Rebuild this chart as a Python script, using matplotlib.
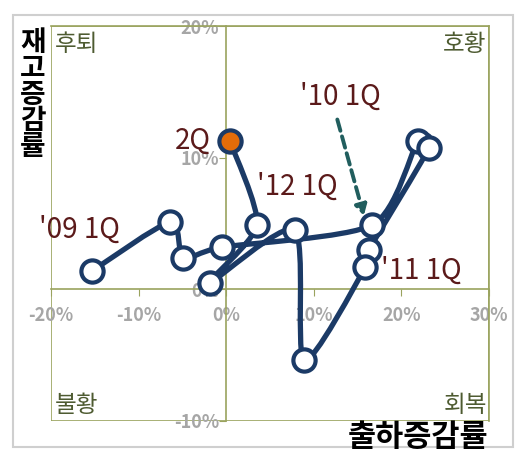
import matplotlib
matplotlib.use('Agg')
import matplotlib.pyplot as plt
from matplotlib.path import Path
from matplotlib.patches import PathPatch, Rectangle

plt.rcParams['font.family'] = ['Noto Sans CJK KR', 'DejaVu Sans']

# quarterly data, 2009 Q1 .. 2012 Q2
quarters = ["'09 1Q", "'09 2Q", "'09 3Q", "'09 4Q",
            "'10 1Q", "'10 2Q", "'10 3Q", "'10 4Q",
            "'11 1Q", "'11 2Q", "'11 3Q", "'11 4Q",
            "'12 1Q", "'12 2Q"]
shipments = [-15.3, -6.4, -4.9, -0.5, 16.7, 21.9, 23.1, 16.3,
             15.9, 8.9, 7.8, -1.9, 3.5, 0.4]
inventory = [1.4, 5.1, 2.4, 3.2, 4.9, 11.3, 10.7, 3.0,
             1.7, -5.4, 4.5, 0.5, 4.9, 11.3]

xticks = [-20, -10, 0, 10, 20, 30]
yticks = [-10, 0, 10, 20]

navy = '#1B3A66'
olive = '#9AA35E'
maroon = '#5B1A1A'
quad_color = '#4E5B31'

fig = plt.figure(figsize=(5.16, 4.5), dpi=100)
fig.patches.append(Rectangle((13 / 516, 3 / 450), 500 / 516, 432 / 450,
                             transform=fig.transFigure, fill=False,
                             ec='#cfcfcf', lw=1.5))
ax = fig.add_axes([51 / 516, 1 - 421 / 450, 438 / 516, 395 / 450])
ax.set_xlim(-20, 30)
ax.set_ylim(-10, 20)

# axes crossing at zero plus olive box
ax.spines['left'].set_position(('data', 0))
ax.spines['bottom'].set_position(('data', 0))
for s in ax.spines.values():
    s.set_color(olive)
    s.set_linewidth(1.2)
ax.add_patch(Rectangle((0, 0), 1, 1, transform=ax.transAxes, fill=False,
                       ec=olive, lw=1.2, zorder=1))
ax.set_xticks(xticks)
ax.set_xticklabels([f'{t}%' for t in xticks])
ax.set_yticks(yticks)
ax.set_yticklabels([f'{t}%' for t in yticks])
ax.tick_params(axis='both', direction='out', length=5, color=olive,
               labelcolor='#a6a6a6', labelsize=13)
ax.tick_params(axis='x', pad=7)
ax.tick_params(axis='y', pad=0)
for t in ax.get_xticklabels() + ax.get_yticklabels():
    t.set_fontweight('bold')

# smoothed line (Excel-like bezier between the data points)
pts = list(zip(shipments, inventory))
verts = [pts[0]]
codes = [Path.MOVETO]
n = len(pts)
k = 8
for i in range(n - 1):
    p0 = pts[i - 1] if i > 0 else pts[i]
    p1 = pts[i]
    p2 = pts[i + 1]
    p3 = pts[i + 2] if i + 2 < n else pts[i + 1]
    c1 = (p1[0] + (p2[0] - p0[0]) / k, p1[1] + (p2[1] - p0[1]) / k)
    c2 = (p2[0] - (p3[0] - p1[0]) / k, p2[1] - (p3[1] - p1[1]) / k)
    verts += [c1, c2, p2]
    codes += [Path.CURVE4] * 3
ax.add_patch(PathPatch(Path(verts, codes), fill=False, ec=navy, lw=3.8,
                       capstyle='round', joinstyle='round', zorder=3))

ax.plot(shipments[:-1], inventory[:-1], 'o', ms=16, mfc='white', mec=navy,
        mew=3, zorder=4)
ax.plot(shipments[-1:], inventory[-1:], 'o', ms=16, mfc='#E36C09', mec=navy,
        mew=3, zorder=4)

# labels
lab = dict(color=maroon, fontsize=20, ha='center', va='center', zorder=5)
ax.text(-16.7, 4.5, quarters[0], **lab)
ax.text(-3.8, 11.3, '2Q', **lab)
ax.text(8.1, 7.8, quarters[12], **lab)
ax.text(13.0, 14.6, quarters[4], **lab)
ax.text(22.3, 1.4, quarters[8], **lab)

ax.annotate('', xy=(15.8, 5.4), xytext=(12.6, 13.1),
            arrowprops=dict(arrowstyle='-|>,head_length=0.6,head_width=0.35',
                            linestyle=(0, (3, 1.5)), lw=2.8, color='#215E5E'),
            zorder=5)

q = dict(color=quad_color, fontsize=17, va='center', transform=ax.transAxes)
ax.text(0.008, 0.952, '후퇴', ha='left', **q)
ax.text(0.995, 0.952, '호황', ha='right', **q)
ax.text(0.008, 0.04, '불황', ha='left', **q)
ax.text(0.995, 0.04, '회복', ha='right', **q)

fig.text(33 / 516, 1 - 95 / 450, '\n'.join('재고증감률'), fontsize=20,
         fontweight='bold', ha='center', va='center', linespacing=0.92)
fig.text(418 / 516, 1 - 437 / 450, '출하증감률', fontsize=22,
         fontweight='bold', ha='center', va='center')

fig.savefig('out.png', dpi=100)
